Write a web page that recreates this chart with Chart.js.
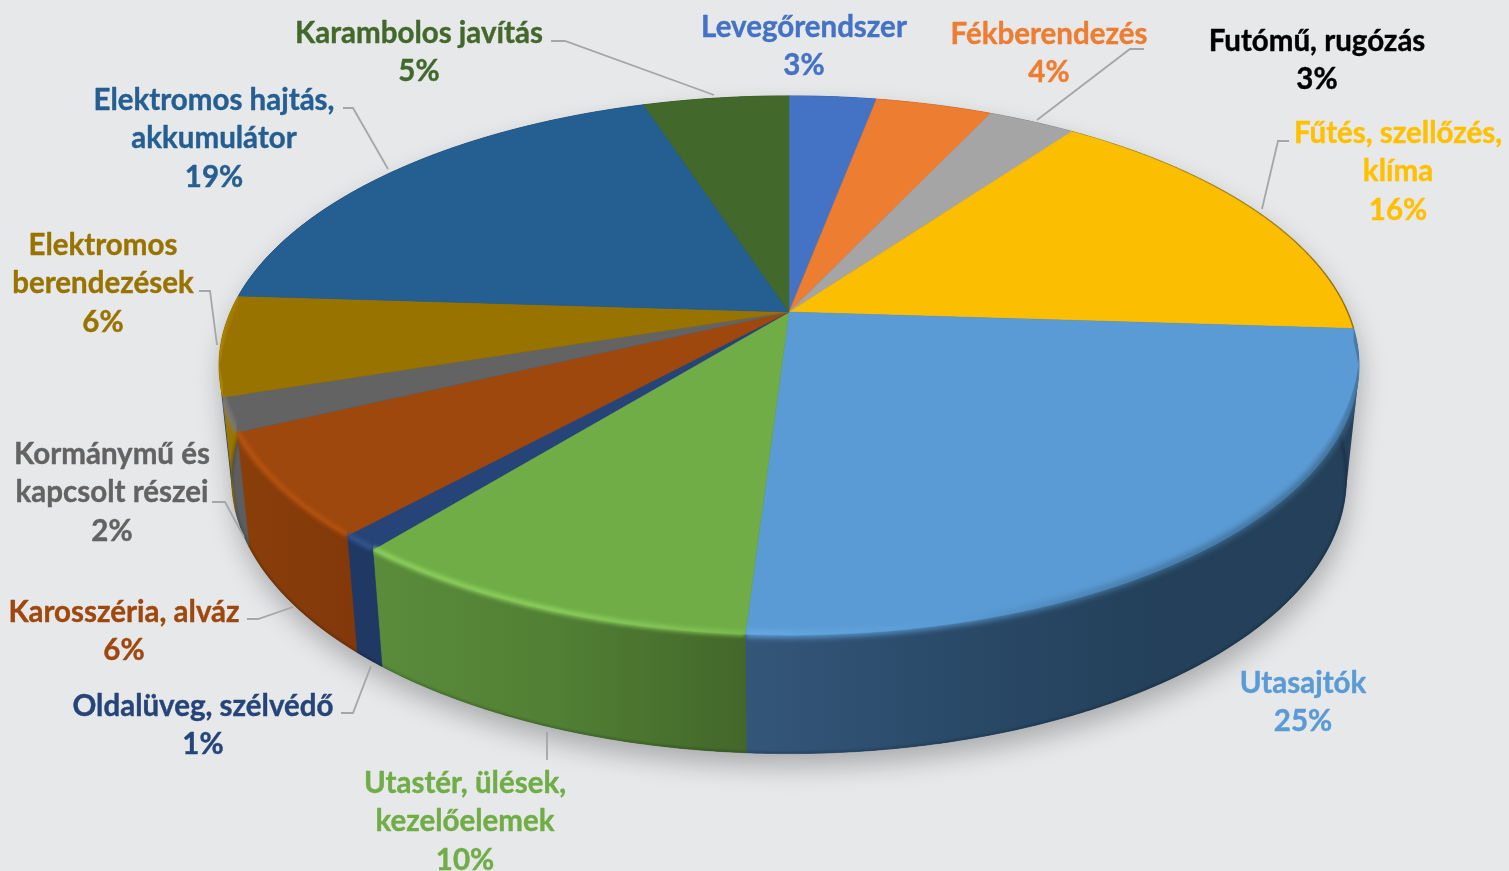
<!DOCTYPE html>
<html lang="hu"><head><meta charset="utf-8">
<style>html,body{margin:0;padding:0;background:#e7e8ea;overflow:hidden}canvas{display:block}</style>
<script src="https://cdn.jsdelivr.net/npm/chart.js@4"></script></head>
<body><canvas id="c" width="1509" height="871"></canvas>
<script>
const categories = ['Levegőrendszer','Fékberendezés','Futómű, rugózás','Fűtés, szellőzés, klíma','Utasajtók','Utastér, ülések, kezelőelemek','Oldalüveg, szélvédő','Karosszéria, alváz','Kormánymű és kapcsolt részei','Elektromos berendezések','Elektromos hajtás, akkumulátor','Karambolos javítás'];
const shares = [3,4,3,16,25,9.85,0.95,6.2,2,6,19,5];
const percentLabels = ['3%','4%','3%','16%','25%','10%','1%','6%','2%','6%','19%','5%'];
const labelLines = [['Levegőrendszer'],['Fékberendezés'],['Futómű, rugózás'],['Fűtés, szellőzés,','klíma'],['Utasajtók'],['Utastér, ülések,','kezelőelemek'],['Oldalüveg, szélvédő'],['Karosszéria, alváz'],['Kormánymű és','kapcsolt részei'],['Elektromos','berendezések'],['Elektromos hajtás,','akkumulátor'],['Karambolos javítás']];
const topColors = ['#4472c4','#ed7d31','#a5a5a5','#fcbe00','#5b9bd5','#70ad47','#264478','#9e480e','#636363','#997300','#255e91','#43682b'];
const textColors = ['#4472c4','#ed7d31','#000000','#ffc000','#5b9bd5','#70ad47','#264478','#9e480e','#636363','#997300','#255e91','#43682b'];
const wallStops = [['#2f4f8c','#2f4f8c'],['#b05c24','#b05c24'],['#7a7a7a','#7a7a7a'],['#24405a','#24405a'],['#345679','#2a4a69','#24405a','#24405a'],['#5a8c3b','#517f34','#43672a'],['#1f3864','#1f3864'],['#8a3f0a','#82380a'],['#5e5e5e','#5e5e5e'],['#a27a00','#8f6c00'],['#1c466c','#1c466c'],['#324e20','#324e20']];
const glowColors = [null,null,null,null,['#69aeea','#5b9bd5','#3f7099','#3a6486'],['#8fd25f','#8fd25f','#7fbe52'],['#35568f','#35568f'],['#bb5510','#b5520f'],['#7c7c7c','#7c7c7c'],['#b58a00','#a88000'],null,null];
// [centre x, first line y] of each label block
const labelAnchors = [[804,27],[1049,34],[1317,41],[1398,133],[1303,683],[465,783],[203,706],[124,612],[112,454],[103,245],[214,100],[419,33]];
const leaderLines = [null,[[1144,49],[1130,49],[1037,120]],null,[[1289,141],[1278,141],[1262,209]],null,[[547,732],[547,760]],[[341,713],[353,713],[371,666]],[[247,619],[258,619],[293,607]],[[212,502],[225,502],[244,537]],[[199,291],[210,291],[217,345]],[[343,108],[353,108],[388,169]],[[551,41],[565,41],[714,95]]];

// Perspective of the tilted disc
const CX=789, CY=312, RX=558.6, RY=259, K=0.1985;
const topPt = a => { const u=Math.cos(a), v=Math.sin(a), w=1-K*v; return [CX+RX*u/w, CY+RY*v/w]; };
const botPt = a => { const p=topPt(a); return [CX+(p[0]-CX)*0.978, 424+(p[1]-CY)*1.02]; };
const samples = (s,e) => { const n=Math.max(2,Math.ceil((e-s)/0.008)), r=[]; for(let i=0;i<=n;i++) r.push(s+(e-s)*i/n); return r; };
function hull(pts){ pts=pts.slice().sort((a,b)=>a[0]-b[0]||a[1]-b[1]); const cr=(o,a,b)=>(a[0]-o[0])*(b[1]-o[1])-(a[1]-o[1])*(b[0]-o[0]); const lo=[],up=[];
  for(const p of pts){ while(lo.length>1&&cr(lo[lo.length-2],lo[lo.length-1],p)<=0) lo.pop(); lo.push(p);}
  for(const p of pts.reverse()){ while(up.length>1&&cr(up[up.length-2],up[up.length-1],p)<=0) up.pop(); up.push(p);}
  return lo.slice(0,-1).concat(up.slice(0,-1)); }
const trace = (ctx,pts) => { pts.forEach((p,i)=> i?ctx.lineTo(p[0],p[1]):ctx.moveTo(p[0],p[1])); };
function xGrad(ctx,pts,stops){ const xs=pts.map(p=>p[0]); const g=ctx.createLinearGradient(Math.min(...xs),0,Math.max(...xs)+0.01,0); stops.forEach((c,i)=>g.addColorStop(i/(stops.length-1),c)); return g; }

const tiltedPie = { id:'tiltedPie',
  beforeDatasetsDraw(chart){
    const ctx=chart.ctx, arcs=chart.getDatasetMeta(0).data;
    const all=samples(-Math.PI/2,Math.PI*1.5);
    const outline=hull(all.map(topPt).concat(all.map(botPt)));
    ctx.save();
    // soft shadow
    ctx.save(); ctx.shadowColor='rgba(0,0,0,0.26)'; ctx.shadowBlur=26; ctx.shadowOffsetY=13; ctx.shadowOffsetX=2;
    ctx.fillStyle='#24405a'; ctx.beginPath(); trace(ctx,outline); ctx.closePath(); ctx.fill(); ctx.restore();
    // side walls
    arcs.forEach((el,i)=>{ const aa=samples(el.startAngle,el.endAngle), t=aa.map(topPt), b=aa.map(botPt).reverse();
      const pts=t.concat(b), g=xGrad(ctx,pts,wallStops[i]);
      ctx.beginPath(); trace(ctx,pts); ctx.closePath(); ctx.fillStyle=g; ctx.fill(); ctx.strokeStyle=g; ctx.lineWidth=0.6; ctx.stroke(); });
    ctx.save(); ctx.beginPath(); trace(ctx,outline); ctx.closePath(); ctx.clip();
    // darker lower edge of the walls
    ctx.save(); ctx.filter='blur(1px)'; ctx.strokeStyle='rgba(0,0,0,0.2)'; ctx.lineWidth=3;
    ctx.beginPath(); trace(ctx,samples(0,Math.PI).map(botPt)); ctx.stroke(); ctx.restore();
    ctx.restore();
    // top face
    arcs.forEach((el,i)=>{ const t=samples(el.startAngle,el.endAngle).map(topPt);
      ctx.beginPath(); trace(ctx,[[CX,CY]].concat(t)); ctx.closePath(); ctx.fillStyle=topColors[i]; ctx.fill(); ctx.strokeStyle=topColors[i]; ctx.lineWidth=0.5; ctx.stroke(); });
    // thin dark edge on the far right rim
    const yEl=arcs[3], yPts=samples(yEl.startAngle,yEl.endAngle).map(topPt), yg=ctx.createLinearGradient(1100,0,1350,0);
    yg.addColorStop(0,'rgba(140,105,0,0)'); yg.addColorStop(1,'rgba(140,105,0,0.8)');
    ctx.strokeStyle=yg; ctx.lineWidth=1.5; ctx.beginPath(); trace(ctx,yPts); ctx.stroke();
    // rim bevel, kept inside the silhouette and each slice's own angular range
    ctx.save(); ctx.beginPath(); trace(ctx,outline); ctx.closePath(); ctx.clip();
    arcs.forEach((el,i)=>{ if(!glowColors[i]) return; const aa=samples(el.startAngle,el.endAngle), t=aa.map(topPt);
      ctx.save(); ctx.beginPath();
      trace(ctx,t.map(p=>[p[0],p[1]-14]).concat(t.map(p=>[p[0],p[1]+14]).reverse())); ctx.closePath(); ctx.clip();
      ctx.filter=i===4?'blur(3px)':'blur(2px)'; ctx.lineWidth=i===4?6:5; ctx.lineJoin='round'; ctx.strokeStyle=xGrad(ctx,t,glowColors[i]);
      ctx.beginPath(); trace(ctx,t.map(p=>[p[0],p[1]-1])); ctx.stroke(); ctx.restore(); });
    ctx.restore();
    ctx.restore();
    return false;
  },
  afterDraw(chart){
    const ctx=chart.ctx;
    ctx.save();
    ctx.strokeStyle='#a6a6a6'; ctx.lineWidth=1.8;
    leaderLines.forEach(l=>{ if(!l) return; ctx.beginPath(); trace(ctx,l); ctx.stroke(); });
    ctx.font='bold 29.5px Lato, Carlito, sans-serif'; ctx.textAlign='center'; ctx.textBaseline='middle';
    ctx.lineWidth=0.4; ctx.lineJoin='round';
    labelLines.forEach((lines,i)=>{ ctx.fillStyle=textColors[i]; ctx.strokeStyle=textColors[i];
      lines.concat(percentLabels[i]).forEach((s,j)=>{ const y=labelAnchors[i][1]+j*38.8; ctx.fillText(s,labelAnchors[i][0],y); ctx.strokeText(s,labelAnchors[i][0],y); }); });
    ctx.restore();
  }
};
new Chart(document.getElementById('c'),{
  type:'pie',
  data:{labels:categories,datasets:[{data:shares,backgroundColor:topColors,borderWidth:0}]},
  options:{responsive:false,animation:false,events:[],devicePixelRatio:1,plugins:{legend:{display:false},tooltip:{enabled:false}}},
  plugins:[{id:'bg',beforeDraw(c){c.ctx.save();c.ctx.fillStyle='#e7e8ea';c.ctx.fillRect(0,0,c.width,c.height);c.ctx.restore();}},tiltedPie]
});
</script></body></html>
